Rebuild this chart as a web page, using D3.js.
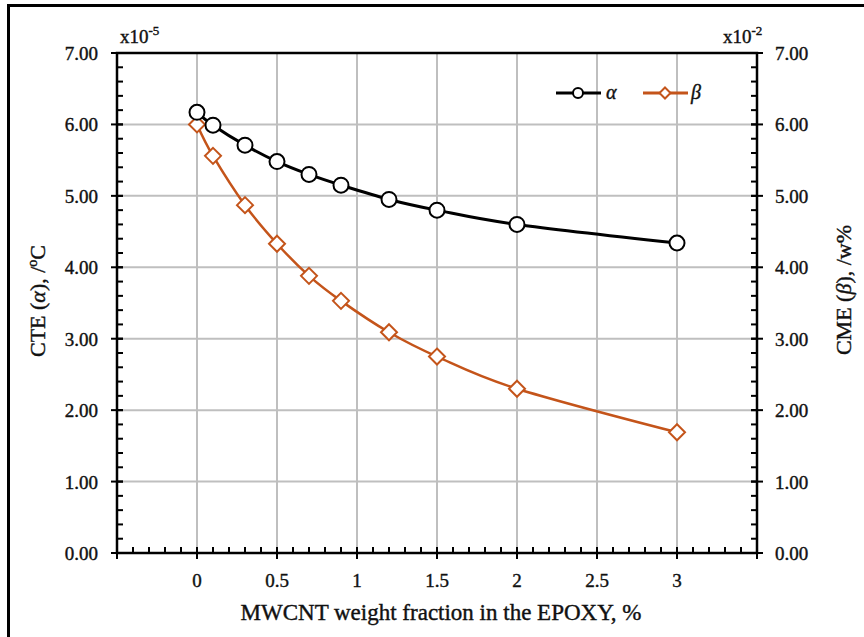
<!DOCTYPE html>
<html lang="en">
<head>
  <meta charset="UTF-8" />
  <title>CTE and CME vs MWCNT weight fraction</title>
  <script src="https://d3js.org/d3.v7.min.js"></script>
  <style>
    body {
      margin: 0;
      padding: 0;
      background: #fff;
    }
    svg text {
      font-family: "Liberation Serif", "Times New Roman", serif;
      fill: #111;
      stroke: #111;
      stroke-width: 0.4px;
    }
    .grid {
      stroke: #bfbfbf;
      stroke-width: 2px;
    }
    .axis-line {
      stroke: #000;
      stroke-width: 2.5px;
    }
    .tick {
      stroke: #000;
      stroke-width: 2px;
    }
  </style>
</head>
<body>
  <svg width="864" height="637"></svg>

  <script>
    // valores
    const fracoes = [0, 0.1, 0.3, 0.5, 0.7, 0.9, 1.2, 1.5, 2, 3];
    const alfa = [6.17, 5.99, 5.71, 5.48, 5.30, 5.15, 4.95, 4.80, 4.60, 4.34];
    const beta = [6.00, 5.56, 4.87, 4.33, 3.88, 3.53, 3.09, 2.75, 2.30, 1.69];
    const xTicks = [0, 0.5, 1, 1.5, 2, 2.5, 3];
    const yTicks = [0, 1, 2, 3, 4, 5, 6, 7];

    const svg = d3.select("svg");
    const esq = 117, dir = 757, topo = 53, base = 553;
    const corBeta = "#c4541a";

    const x = d3.scaleLinear().domain([-0.5, 3.5]).range([esq, dir]);
    const y = d3.scaleLinear().domain([0, 7]).range([base, topo]);

    // moldura externa (so esquerda e topo)
    svg.append("line").attr("x1", 8.5).attr("x2", 864).attr("y1", 5.5).attr("y2", 5.5)
      .attr("stroke", "#000").attr("stroke-width", 3);
    svg.append("line").attr("x1", 8.5).attr("x2", 8.5).attr("y1", 4).attr("y2", 637)
      .attr("stroke", "#000").attr("stroke-width", 3);

    // grade
    svg.selectAll(".gx")
      .data(xTicks)
      .enter()
      .append("line")
      .attr("class", "grid")
      .attr("x1", (d) => x(d)).attr("x2", (d) => x(d))
      .attr("y1", topo).attr("y2", base);

    svg.selectAll(".gy")
      .data(yTicks.filter((d) => d > 0 && d < 7))
      .enter()
      .append("line")
      .attr("class", "grid")
      .attr("x1", esq).attr("x2", dir)
      .attr("y1", (d) => y(d)).attr("y2", (d) => y(d));

    // ticks menores
    const minX = d3.range(-0.5, 3.5001, 0.1).map((d) => +d.toFixed(2));
    const minY = d3.range(0, 7.0001, 0.2).map((d) => +d.toFixed(2));

    svg.selectAll(".mx")
      .data(minX)
      .enter()
      .append("line")
      .attr("class", "tick")
      .attr("x1", (d) => x(d)).attr("x2", (d) => x(d))
      .attr("y1", base).attr("y2", base - 6);

    svg.selectAll(".myl")
      .data(minY)
      .enter()
      .append("line")
      .attr("class", "tick")
      .attr("x1", esq).attr("x2", esq + 6)
      .attr("y1", (d) => y(d)).attr("y2", (d) => y(d));

    svg.selectAll(".myr")
      .data(minY)
      .enter()
      .append("line")
      .attr("class", "tick")
      .attr("x1", dir).attr("x2", dir - 6)
      .attr("y1", (d) => y(d)).attr("y2", (d) => y(d));

    // ticks maiores
    svg.selectAll(".Mx")
      .data([-0.5, ...xTicks, 3.5])
      .enter()
      .append("line")
      .attr("class", "tick")
      .attr("x1", (d) => x(d)).attr("x2", (d) => x(d))
      .attr("y1", base - 6).attr("y2", base + 6);

    svg.selectAll(".My")
      .data(yTicks)
      .enter()
      .append("line")
      .attr("class", "tick")
      .attr("x1", esq - 6).attr("x2", esq + 6)
      .attr("y1", (d) => y(d)).attr("y2", (d) => y(d));

    svg.selectAll(".Myr")
      .data(yTicks)
      .enter()
      .append("line")
      .attr("class", "tick")
      .attr("x1", dir - 6).attr("x2", dir + 6)
      .attr("y1", (d) => y(d)).attr("y2", (d) => y(d));

    // eixos / borda da area do grafico
    svg.append("rect")
      .attr("x", esq).attr("y", topo)
      .attr("width", dir - esq).attr("height", base - topo)
      .attr("fill", "none").attr("class", "axis-line");

    // rotulos
    const fmt = d3.format(".2f");
    svg.selectAll(".ly")
      .data(yTicks)
      .enter()
      .append("text")
      .attr("x", esq - 19)
      .attr("y", (d) => y(d) + 7)
      .attr("text-anchor", "end")
      .attr("font-size", 19)
      .text(fmt);

    svg.selectAll(".ry")
      .data(yTicks)
      .enter()
      .append("text")
      .attr("x", dir + 18)
      .attr("y", (d) => y(d) + 7)
      .attr("font-size", 19)
      .text(fmt);

    svg.selectAll(".lx")
      .data(xTicks)
      .enter()
      .append("text")
      .attr("x", (d) => x(d))
      .attr("y", 587)
      .attr("text-anchor", "middle")
      .attr("font-size", 19)
      .text((d) => d);

    // multiplicadores
    const mult = (px, exp) => {
      const t = svg.append("text").attr("x", px).attr("y", 43).attr("font-size", 19);
      t.append("tspan").text("x10");
      t.append("tspan").attr("font-size", 13).attr("dy", -8).text(exp);
    };
    mult(120, "-5");
    mult(723, "-2");

    // titulos
    svg.append("text")
      .attr("x", 441)
      .attr("y", 620)
      .attr("text-anchor", "middle")
      .attr("font-size", 23)
      .text("MWCNT weight fraction in the EPOXY, %");

    const tituloE = svg.append("text")
      .attr("transform", "translate(45,301) rotate(-90)")
      .attr("text-anchor", "middle")
      .attr("font-size", 22);
    tituloE.append("tspan").text("CTE (");
    tituloE.append("tspan").attr("font-style", "italic").text("α");
    tituloE.append("tspan").text("), /");
    tituloE.append("tspan").attr("font-size", 14).attr("dy", -8).text("o");
    tituloE.append("tspan").attr("dy", 8).text("C");

    const tituloD = svg.append("text")
      .attr("transform", "translate(851,290) rotate(-90)")
      .attr("text-anchor", "middle")
      .attr("font-size", 22);
    tituloD.append("tspan").text("CME (");
    tituloD.append("tspan").attr("font-style", "italic").text("β");
    tituloD.append("tspan").text("), /w%");

    // series
    const pontosA = fracoes.map((f, i) => ({ f, v: alfa[i] }));
    const pontosB = fracoes.map((f, i) => ({ f, v: beta[i] }));

    const linha = d3.line()
      .x((d) => x(d.f))
      .y((d) => y(d.v))
      .curve(d3.curveCardinal.tension(0));

    svg.append("path")
      .datum(pontosB)
      .attr("d", linha)
      .attr("fill", "none")
      .attr("stroke", corBeta)
      .attr("stroke-width", 2.5);

    svg.append("path")
      .datum(pontosA)
      .attr("d", linha)
      .attr("fill", "none")
      .attr("stroke", "#000")
      .attr("stroke-width", 3);

    const diamante = (s) => `M0,${-s}L${s},0L0,${s}L${-s},0Z`;

    svg.selectAll(".pb")
      .data(pontosB)
      .enter()
      .append("path")
      .attr("d", diamante(8))
      .attr("transform", (d) => `translate(${x(d.f)},${y(d.v)})`)
      .attr("fill", "#fff")
      .attr("stroke", corBeta)
      .attr("stroke-width", 2);

    svg.selectAll(".pa")
      .data(pontosA)
      .enter()
      .append("circle")
      .attr("cx", (d) => x(d.f))
      .attr("cy", (d) => y(d.v))
      .attr("r", 7.5)
      .attr("fill", "#fff")
      .attr("stroke", "#000")
      .attr("stroke-width", 2);

    // legenda
    const ly = 93;
    svg.append("line").attr("x1", 556).attr("x2", 601).attr("y1", ly).attr("y2", ly)
      .attr("stroke", "#000").attr("stroke-width", 3);
    svg.append("circle").attr("cx", 578).attr("cy", ly).attr("r", 5)
      .attr("fill", "#fff").attr("stroke", "#000").attr("stroke-width", 2);
    svg.append("text").attr("x", 606).attr("y", ly + 6).attr("font-size", 20)
      .attr("font-style", "italic").text("α");

    svg.append("line").attr("x1", 643).attr("x2", 688).attr("y1", ly).attr("y2", ly)
      .attr("stroke", corBeta).attr("stroke-width", 3);
    svg.append("path").attr("d", diamante(5.5))
      .attr("transform", `translate(665,${ly})`)
      .attr("fill", "#fff").attr("stroke", corBeta).attr("stroke-width", 2);
    svg.append("text").attr("x", 691).attr("y", ly + 6).attr("font-size", 20)
      .attr("font-style", "italic").text("β");
  </script>
</body>
</html>
